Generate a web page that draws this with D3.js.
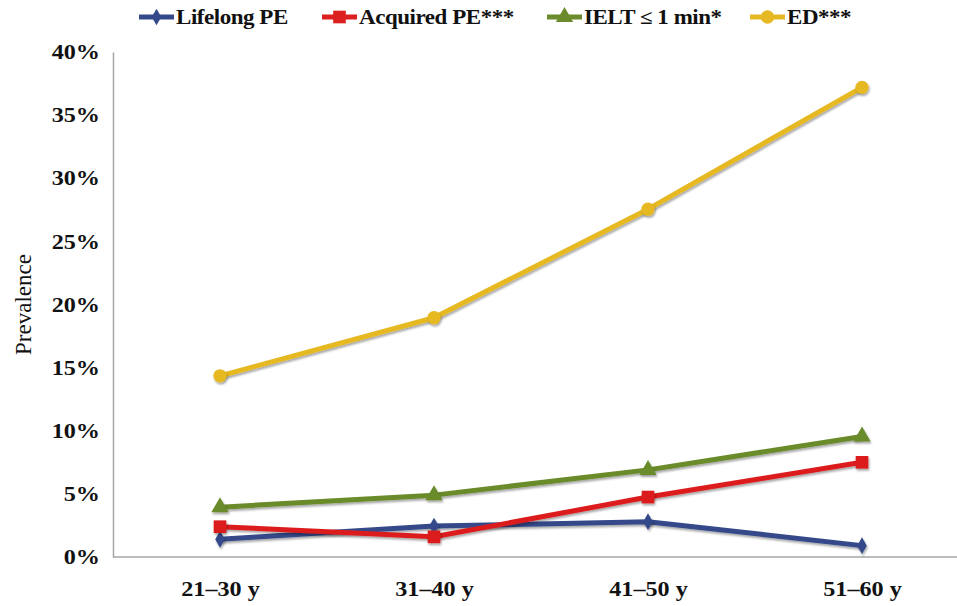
<!DOCTYPE html>
<html>
<head>
<meta charset="utf-8">
<script src="https://cdn.jsdelivr.net/npm/d3@7"></script>
<style>
  body { margin: 0; background: #fff; }
  svg { display: block; font-family: 'Liberation Serif', 'Times New Roman', serif; }
</style>
</head>
<body>
<div id="chart"></div>
<script>
const ageGroups = ['21–30 y', '31–40 y', '41–50 y', '51–60 y'];
const yTicks = [0, 5, 10, 15, 20, 25, 30, 35, 40];

const lifelongPE = [1.4, 2.45, 2.8, 0.9];
const acquiredPE = [2.4, 1.6, 4.75, 7.5];
const ieltShort = [3.95, 4.9, 6.9, 9.55];
const ed = [14.35, 18.95, 27.55, 37.2];

const series = [
  {name: 'Lifelong PE', values: lifelongPE, color: '#34498a', symbol: d3.symbolDiamond, size: 80},
  {name: 'Acquired PE***', values: acquiredPE, color: '#dc1f1f', symbol: d3.symbolSquare, size: 160},
  {name: 'IELT ≤ 1 min*', values: ieltShort, color: '#6b8b2c', symbol: d3.symbolTriangle, size: 130},
  {name: 'ED***', values: ed, color: '#e6b823', symbol: d3.symbolCircle, size: 140},
];
const legendX = [139, 322, 547, 750];

const width = 957;
const height = 606;
const margin = {top: 52, right: 0, bottom: 49, left: 113};
const stretchX = 1.15;

const svg = d3.select('#chart').append('svg')
  .attr('width', width)
  .attr('height', height);

const defs = svg.append('defs');
const shadow = defs.append('filter').attr('id', 'shadow')
  .attr('x', '-50%').attr('y', '-50%').attr('width', '200%').attr('height', '200%');
shadow.append('feDropShadow')
  .attr('dx', 1).attr('dy', 2).attr('stdDeviation', 1.2)
  .attr('flood-color', '#000').attr('flood-opacity', 0.35);

// the source picture is a bit wider than tall, so text is stretched sideways
function stretch(sel, k) {
  sel.each(function() {
    const t = d3.select(this);
    const x0 = +t.attr('x') || 0;
    t.attr('x', 0).attr('transform', `translate(${x0},0) scale(${k},1)`);
  });
}

const x = d3.scalePoint()
  .domain(ageGroups)
  .range([margin.left + 107, margin.left + 107 + 3 * 214]);

const y = d3.scaleLinear()
  .domain([0, 40])
  .range([height - margin.bottom, margin.top]);

// y axis
const yAxis = svg.append('g')
  .attr('transform', `translate(${margin.left},0)`)
  .call(d3.axisLeft(y).tickValues(yTicks).tickSize(0).tickPadding(13).tickFormat((d) => d + '%'));
yAxis.select('.domain').attr('stroke', '#a6a6a6').attr('stroke-width', 1.5);
yAxis.selectAll('text')
  .attr('font-size', 21)
  .attr('font-weight', 'bold')
  .attr('fill', '#111')
  .attr('font-family', "'Liberation Serif', serif")
  .call(stretch, stretchX);

// x axis
const xAxis = svg.append('g')
  .attr('transform', `translate(0,${y(0)})`)
  .call(d3.axisBottom(x).tickSize(0).tickPadding(24));
xAxis.select('.domain').attr('d', `M${margin.left},0H${width}`)
  .attr('stroke', '#a6a6a6').attr('stroke-width', 1.5);
xAxis.selectAll('text')
  .attr('font-size', 21)
  .attr('font-weight', 'bold')
  .attr('fill', '#111')
  .attr('font-family', "'Liberation Serif', serif")
  .call(stretch, stretchX);

// y title
svg.append('text')
  .attr('transform', `translate(31,${(y(0) + y(40)) / 2}) rotate(-90)`)
  .attr('text-anchor', 'middle')
  .attr('font-size', 23)
  .attr('fill', '#111')
  .text('Prevalence');

const line = d3.line()
  .x((d, i) => x(ageGroups[i]))
  .y((d) => y(d));

const plot = svg.append('g');
series.forEach((s) => {
  const g = plot.append('g');
  g.append('path')
    .datum(s.values)
    .attr('fill', 'none')
    .attr('stroke', s.color)
    .attr('stroke-width', 5)
    .attr('stroke-linejoin', 'round')
    .attr('filter', 'url(#shadow)')
    .attr('d', line);
  g.selectAll('path.marker')
    .data(s.values)
    .join('path')
    .attr('class', 'marker')
    .attr('fill', s.color)
    .attr('filter', 'url(#shadow)')
    .attr('transform', (d, i) => `translate(${x(ageGroups[i])},${y(d)})`)
    .attr('d', d3.symbol().type(s.symbol).size(s.size));
});

// legend
const legend = svg.append('g').attr('transform', 'translate(0,17)');
series.forEach((s, i) => {
  const g = legend.append('g').attr('transform', `translate(${legendX[i]},0)`);
  g.append('line')
    .attr('x1', 0).attr('x2', 35)
    .attr('stroke', s.color)
    .attr('stroke-width', 5);
  g.append('path')
    .attr('transform', 'translate(17.5,0)')
    .attr('fill', s.color)
    .attr('d', d3.symbol().type(s.symbol).size(s.size));
  g.append('text')
    .attr('x', 37)
    .attr('dy', '0.35em')
    .attr('font-size', 20)
    .attr('font-weight', 'bold')
    .attr('letter-spacing', -0.4)
    .attr('fill', '#111')
    .text(s.name)
    .call(stretch, stretchX);
});
</script>
</body>
</html>
